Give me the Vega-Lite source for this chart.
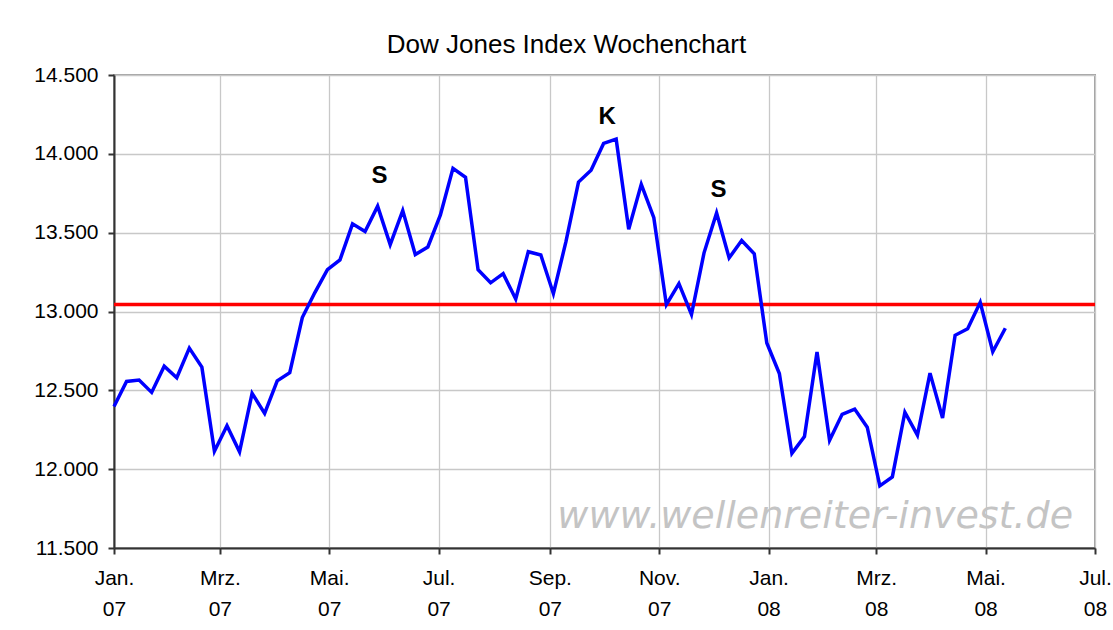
{
  "$schema": "https://vega.github.io/schema/vega-lite/v6.json",
  "width": 981,
  "height": 473,
  "autosize": {"type": "none"},
  "padding": {"left": 114, "top": 75, "right": 18, "bottom": 82},
  "background": "white",
  "title": {
    "text": "Dow Jones Index Wochenchart",
    "font": "Liberation Sans",
    "fontSize": 26,
    "fontWeight": "normal",
    "color": "#000000",
    "anchor": "start",
    "dx": 353,
    "offset": 6
  },
  "config": {
    "view": {"stroke": "#a0a0a0", "strokeWidth": 2},
    "axis": {
      "labelFont": "Liberation Sans",
      "labelFontSize": 21,
      "labelColor": "#000000",
      "domainColor": "#333333",
      "domainWidth": 2,
      "tickColor": "#333333",
      "tickWidth": 2,
      "tickSize": 6,
      "gridColor": "#c8c8c8",
      "gridWidth": 1.3
    }
  },
  "layer": [
    {
      "data": {"values": [{"date": "2008-01-27", "value": 11630, "label": "www.wellenreiter-invest.de"}]},
      "mark": {"type": "text", "font": "DejaVu Sans", "fontStyle": "italic", "fontSize": 38, "color": "#c4c4c4", "align": "center", "baseline": "alphabetic"},
      "encoding": {
        "x": {
          "field": "date",
          "type": "temporal",
          "scale": {"domain": [{"year": 2007, "month": 1, "date": 1}, {"year": 2008, "month": 7, "date": 1}], "nice": false},
          "axis": {
            "title": null,
            "values": [
              {"year": 2007, "month": 1, "date": 1},
              {"year": 2007, "month": 3, "date": 1},
              {"year": 2007, "month": 5, "date": 1},
              {"year": 2007, "month": 7, "date": 1},
              {"year": 2007, "month": 9, "date": 1},
              {"year": 2007, "month": 11, "date": 1},
              {"year": 2008, "month": 1, "date": 1},
              {"year": 2008, "month": 3, "date": 1},
              {"year": 2008, "month": 5, "date": 1},
              {"year": 2008, "month": 7, "date": 1}
            ],
            "labelExpr": "[['Jan.','Feb.','Mrz.','Apr.','Mai.','Jun.','Jul.','Aug.','Sep.','Okt.','Nov.','Dez.'][month(datum.value)], timeFormat(datum.value, '%y')]",
            "labelLineHeight": 31,
            "labelPadding": 13,
            "labelAlign": "center",
            "labelFlush": false,
            "labelOverlap": false,
            "grid": true
          }
        },
        "y": {
          "field": "value",
          "type": "quantitative",
          "scale": {"domain": [11500, 14500], "nice": false, "zero": false},
          "axis": {
            "title": null,
            "values": [11500, 12000, 12500, 13000, 13500, 14000, 14500],
            "labelExpr": "replace(format(datum.value, ','), ',', '.')",
            "labelPadding": 10,
            "grid": true
          }
        },
        "text": {"field": "label"}
      }
    },
    {
      "data": {"values": [{"value": 13045}]},
      "mark": {"type": "rule", "color": "#ff0000", "strokeWidth": 3.5},
      "encoding": {
        "y": {"field": "value", "type": "quantitative"}
      }
    },
    {
      "data": {"values": [
        {"date": "2007-01-01", "value": 12398},
        {"date": "2007-01-08", "value": 12556},
        {"date": "2007-01-15", "value": 12565},
        {"date": "2007-01-22", "value": 12487},
        {"date": "2007-01-29", "value": 12653},
        {"date": "2007-02-05", "value": 12580},
        {"date": "2007-02-12", "value": 12768},
        {"date": "2007-02-19", "value": 12647},
        {"date": "2007-02-26", "value": 12114},
        {"date": "2007-03-05", "value": 12276},
        {"date": "2007-03-12", "value": 12110},
        {"date": "2007-03-19", "value": 12481},
        {"date": "2007-03-26", "value": 12354},
        {"date": "2007-04-02", "value": 12560},
        {"date": "2007-04-09", "value": 12612},
        {"date": "2007-04-16", "value": 12962},
        {"date": "2007-04-23", "value": 13120},
        {"date": "2007-04-30", "value": 13265},
        {"date": "2007-05-07", "value": 13327},
        {"date": "2007-05-14", "value": 13556},
        {"date": "2007-05-21", "value": 13507},
        {"date": "2007-05-28", "value": 13668},
        {"date": "2007-06-04", "value": 13424},
        {"date": "2007-06-11", "value": 13640},
        {"date": "2007-06-18", "value": 13361},
        {"date": "2007-06-25", "value": 13409},
        {"date": "2007-07-02", "value": 13612},
        {"date": "2007-07-09", "value": 13908},
        {"date": "2007-07-16", "value": 13851},
        {"date": "2007-07-23", "value": 13265},
        {"date": "2007-07-30", "value": 13182},
        {"date": "2007-08-06", "value": 13240},
        {"date": "2007-08-13", "value": 13079},
        {"date": "2007-08-20", "value": 13379},
        {"date": "2007-08-27", "value": 13358},
        {"date": "2007-09-03", "value": 13113},
        {"date": "2007-09-10", "value": 13443},
        {"date": "2007-09-17", "value": 13821},
        {"date": "2007-09-24", "value": 13896},
        {"date": "2007-10-01", "value": 14066},
        {"date": "2007-10-08", "value": 14093},
        {"date": "2007-10-15", "value": 13522},
        {"date": "2007-10-22", "value": 13807},
        {"date": "2007-10-29", "value": 13595},
        {"date": "2007-11-05", "value": 13043},
        {"date": "2007-11-12", "value": 13177},
        {"date": "2007-11-19", "value": 12981},
        {"date": "2007-11-26", "value": 13372},
        {"date": "2007-12-03", "value": 13625},
        {"date": "2007-12-10", "value": 13340},
        {"date": "2007-12-17", "value": 13450},
        {"date": "2007-12-24", "value": 13366},
        {"date": "2007-12-31", "value": 12800},
        {"date": "2008-01-07", "value": 12607},
        {"date": "2008-01-14", "value": 12100},
        {"date": "2008-01-21", "value": 12207},
        {"date": "2008-01-28", "value": 12743},
        {"date": "2008-02-04", "value": 12183},
        {"date": "2008-02-11", "value": 12348},
        {"date": "2008-02-18", "value": 12381},
        {"date": "2008-02-25", "value": 12266},
        {"date": "2008-03-03", "value": 11894},
        {"date": "2008-03-10", "value": 11951},
        {"date": "2008-03-17", "value": 12361},
        {"date": "2008-03-24", "value": 12216},
        {"date": "2008-03-31", "value": 12609},
        {"date": "2008-04-07", "value": 12325},
        {"date": "2008-04-14", "value": 12849},
        {"date": "2008-04-21", "value": 12891},
        {"date": "2008-04-28", "value": 13058},
        {"date": "2008-05-05", "value": 12745},
        {"date": "2008-05-12", "value": 12894}
      ]},
      "mark": {"type": "line", "color": "#0000ff", "strokeWidth": 3.5},
      "encoding": {
        "x": {"field": "date", "type": "temporal"},
        "y": {"field": "value", "type": "quantitative"}
      }
    },
    {
      "data": {"values": [
        {"date": "2007-05-29", "value": 13817, "label": "S"},
        {"date": "2007-10-03", "value": 14187, "label": "K"},
        {"date": "2007-12-04", "value": 13728, "label": "S"}
      ]},
      "mark": {"type": "text", "font": "Liberation Sans", "fontWeight": "bold", "fontSize": 24, "color": "#000000", "align": "center", "baseline": "alphabetic"},
      "encoding": {
        "x": {"field": "date", "type": "temporal"},
        "y": {"field": "value", "type": "quantitative"},
        "text": {"field": "label"}
      }
    }
  ]
}
